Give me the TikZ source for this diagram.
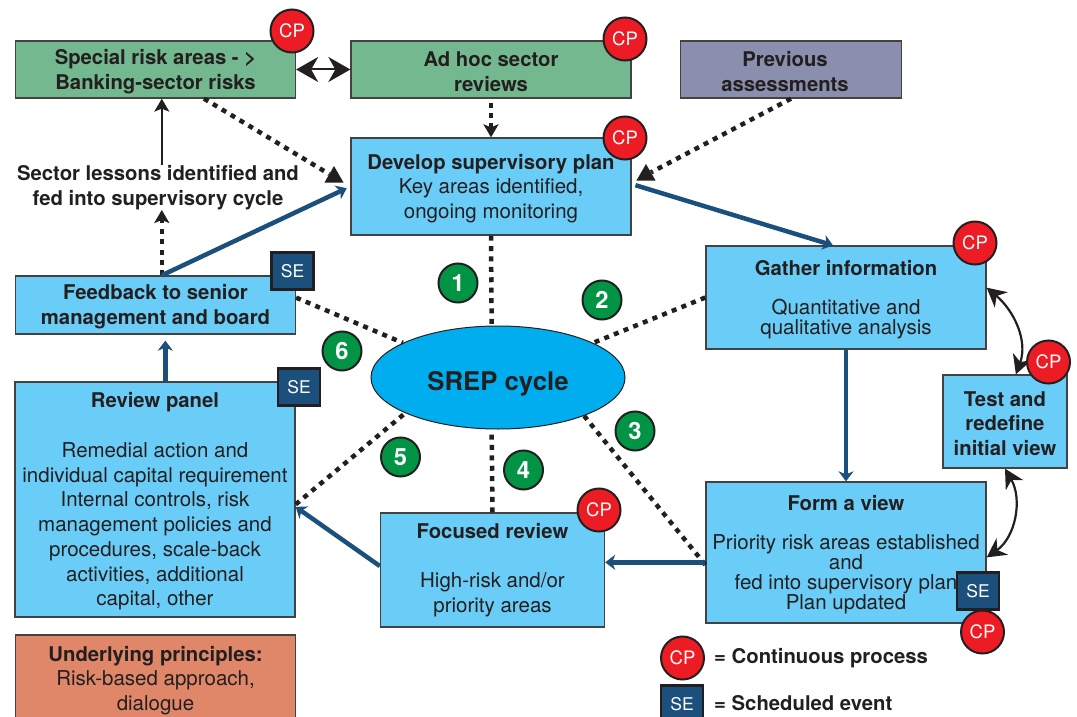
\documentclass[tikz,border=0pt]{standalone}
\usepackage{fontspec}
\setmainfont{TeX Gyre Heros}
\newfontfamily\medfont[Scale=0.99]{TeX Gyre Heros Bold}
\usetikzlibrary{arrows.meta,shapes.geometric}
\definecolor{inkc}{HTML}{231F20}
\definecolor{greenc}{HTML}{74B88F}
\definecolor{skyc}{HTML}{6ACDF7}
\definecolor{greyc}{HTML}{8A8FAD}
\definecolor{orangec}{HTML}{E0876A}
\definecolor{cyclec}{HTML}{00AEEF}
\definecolor{redc}{HTML}{ED1C24}
\definecolor{numc}{HTML}{009444}
\definecolor{navyc}{HTML}{1B4F7C}
\newcommand{\topgap}{\rule{0pt}{19pt}}
\tikzset{
  box/.style={draw=inkc!85, line width=1.3pt, text=inkc, align=center, inner sep=0pt, font=\fontsize{20.5}{24.7}\selectfont},
  tightbox/.style={box, font=\fontsize{20.5}{19.3}\selectfont},
  cpmark/.style={circle, draw=inkc, line width=2pt, fill=redc, text=white, minimum size=43pt, inner sep=0pt, font=\fontsize{18.5}{18}\selectfont},
  semark/.style={rectangle, draw=inkc, line width=2.2pt, fill=navyc, text=white, minimum width=42pt, minimum height=37pt, inner sep=0pt, font=\fontsize{17.5}{17}\selectfont},
  nummark/.style={circle, draw=inkc, line width=2pt, fill=numc, text=white, minimum size=39pt, inner sep=0pt, font=\medfont\fontsize{24}{24}\selectfont},
  dotline/.style={inkc, line width=4.5pt, dash pattern=on 5pt off 5.4pt},
  flow/.style={navyc, line width=4.5pt, -{Stealth[length=10pt,width=15pt,inset=3pt]}},
  dottip/.style={regular polygon, regular polygon sides=3, fill=inkc, inner sep=0pt, minimum size=22pt},
  loopline/.style={inkc, line width=2.2pt, {Stealth[length=19pt,width=20pt,inset=6pt]}-{Stealth[length=19pt,width=20pt,inset=6pt]}}
}
\begin{document}
\begin{tikzpicture}[x=1pt,y=-1pt]
\useasboundingbox (0,0) rectangle (1077,717);
\node[box, fill=greenc, minimum width=280, minimum height=57] (special) at (155.5,69.5) {\topgap\medfont Special risk areas - >\\\medfont Banking-sector risks};
\node[box, fill=greenc, minimum width=280, minimum height=57] (adhoc) at (491,69.5) {\topgap\medfont Ad hoc sector\\\medfont reviews};
\node[box, fill=greyc, minimum width=221, minimum height=57] (previous) at (791,69.5) {\topgap\hspace*{-12pt}\medfont Previous\\\hspace*{-12pt}\medfont assessments};
\node[box, fill=skyc, minimum width=280, minimum height=97] (develop) at (491,186.5) {\topgap\medfont Develop supervisory plan\\Key areas identified,\\ongoing monitoring};
\node[tightbox, fill=skyc, minimum width=280, minimum height=103] (gather) at (846,297.5) {\topgap\medfont Gather information\\[20pt]Quantitative and\\qualitative analysis};
\node[box, fill=skyc, minimum width=124, minimum height=93] (test) at (1005,421.5) {\topgap\medfont Test and\\\medfont redefine\\\medfont initial view};
\node[tightbox, fill=skyc, minimum width=280, minimum height=141] (form) at (846,552.5) {\topgap\medfont Form a view\\[20pt]Priority risk areas established\\and\\fed into supervisory plan\\Plan updated};
\node[box, fill=skyc, minimum width=224, minimum height=114] (focused) at (492.5,570) {\medfont Focused review\\[24pt]High-risk and/or\\priority areas};
\node[box, fill=skyc, minimum width=280, minimum height=235] (review) at (155,499.5) {\topgap\medfont Review panel\\[25pt]Remedial action and\\individual capital requirement\\Internal controls, risk\\management policies and\\procedures, scale-back\\activities, additional\\capital, other};
\node[box, fill=skyc, minimum width=280, minimum height=58] (feedback) at (155.5,305) {\topgap\medfont Feedback to senior\\\medfont management and board};
\node[box, fill=orangec, minimum width=280, minimum height=87] (principles) at (155.5,678.5) {\topgap\medfont Underlying principles:\\Risk-based approach,\\dialogue};
\node[ellipse, draw=inkc, line width=1pt, fill=cyclec, text=inkc, minimum width=254, minimum height=103, inner sep=0pt, font=\medfont\fontsize{26}{26}\selectfont] (srep) at (498,377.5) {\raisebox{-12.5pt}[0pt][0pt]{SREP cycle}};
\node[text=inkc, align=center, inner sep=0pt, font=\medfont\fontsize{20.5}{25}\selectfont] (lessons) at (158,187.5) {Sector lessons identified and\\fed into supervisory cycle};
\node[dottip] (tipplan) at (334,177) {};
\node[dottip] (tipprev) at (646,175) {};
\draw[dotline] (special.-31) -- (tipplan);
\draw[dotline] (previous.-90) -- (tipprev);
\draw[dotline, -{Stealth[length=13pt,width=15pt,inset=3pt]}, shorten <=4pt] (adhoc.south) -- (develop.north);
\draw[dotline, -{Stealth[length=13pt,width=15pt,inset=3pt]}] (feedback.78) -- (feedback.78 |- lessons.south);
\draw[inkc, line width=1.5pt, -{Stealth[length=13pt,width=15pt,inset=3pt]}] (feedback.78 |- lessons.north) -- (feedback.78 |- special.south);
\draw[inkc, line width=2pt, {Stealth[length=22pt,width=25pt,inset=7pt]}-{Stealth[length=22pt,width=25pt,inset=7pt]}] (special.east) -- (adhoc.west);
\draw[dotline] (develop.south) -- (srep.97.8);
\draw[dotline] (gather.west) -- (srep.20.9);
\draw[dotline] (form.185) -- (srep.-24.9);
\draw[dotline] (focused.north) -- (srep.263.9);
\draw[dotline] (review.-2) -- (srep.201.6);
\draw[dotline] (feedback.3) -- (srep.160);
\draw[flow, shorten <=4pt] (develop.1) -- (gather.104);
\draw[flow] (gather.south) -- (form.north);
\draw[flow] (form.184.3) -- (form.184.3 -| focused.east);
\draw[flow] (focused.178.5) -- (review.-3);
\draw[flow, shorten >=6pt] (review.85) -- (review.85 |- feedback.south);
\draw[flow, shorten >=4pt] (feedback.78) -- (develop.west);
\draw[loopline] (test.77) to[out=70,in=-40] (gather.4.7);
\draw[loopline] (test.south) to[out=-60,in=35] (form.-2.7);
\node[cpmark] (cpspecial) at (292,31) {CP};
\node[cpmark] (cpadhoc) at (625,39) {CP};
\node[cpmark] (cpdevelop) at (625,138) {CP};
\node[cpmark] (cpgather) at (975,243) {CP};
\node[cpmark] (cptest) at (1048.5,362) {CP};
\node[cpmark] (cpfocused) at (599,510) {CP};
\node[semark] (seform) at (978,591) {SE};
\node[cpmark] (cpform) at (982.5,632) {CP};
\node[semark] (sefeedback) at (292.5,271) {SE};
\node[semark] (sereview) at (299,387) {SE};
\node[nummark] (numa) at (458,283) {1};
\node[nummark] (numb) at (602,300) {2};
\node[nummark] (numc) at (635,431) {3};
\node[nummark] (numd) at (523.5,470) {4};
\node[nummark] (nume) at (400.5,457) {5};
\node[nummark] (numf) at (342,351) {6};
\node[cpmark] (cplegend) at (682.5,658) {CP};
\node[semark] (selegend) at (682,704) {SE};
\node[anchor=west, text=inkc, inner sep=0pt, font=\medfont\fontsize{20.5}{25}\selectfont] (cptext) at (714,658) {= Continuous process};
\node[anchor=west, text=inkc, inner sep=0pt, font=\medfont\fontsize{20.5}{25}\selectfont] (setext) at (714,703) {= Scheduled event};
\end{tikzpicture}
\end{document}
